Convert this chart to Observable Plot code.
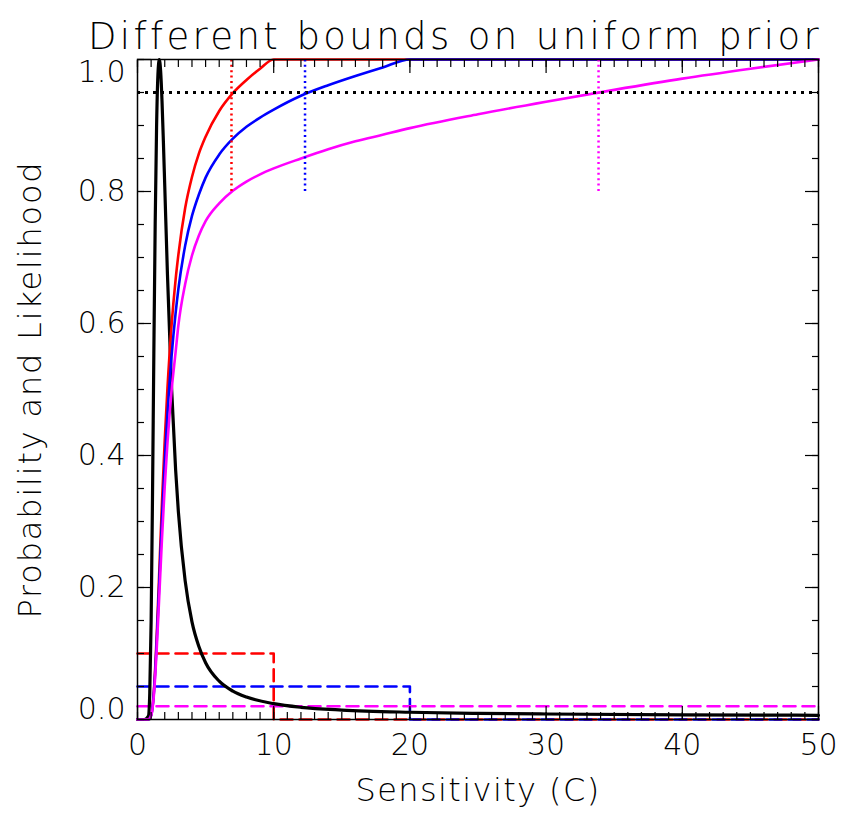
<!DOCTYPE html>
<html><head><meta charset="utf-8">
<script src="https://cdn.jsdelivr.net/npm/d3@7"></script>
<script src="https://cdn.jsdelivr.net/npm/@observablehq/plot@0.6"></script>
<style>
body{margin:0;background:#fff;}
#chart svg, #chart svg text{font-family:"DejaVu Sans",sans-serif;font-weight:200;}
</style></head><body><div id="chart"></div>
<script>
// Sensitivity grid for the posterior CDFs
const sens = [0, 0.8, 1.0, 1.2, 1.4, 1.6, 1.8, 2.0, 2.2, 2.5, 2.8, 3.0, 3.5, 4, 4.5, 5, 6, 7, 8, 9, 10, 12, 14, 16, 18, 20, 25, 30, 35, 40, 45, 50];
// Posterior CDFs for uniform priors on [0,10], [0,20], [0,50]
const cdf10 = [0, 0.0003, 0.0065, 0.043, 0.122, 0.225, 0.33, 0.423, 0.502, 0.597, 0.667, 0.704, 0.775, 0.822, 0.857, 0.883, 0.922, 0.949, 0.969, 0.986, 1, 1, 1, 1, 1, 1, 1, 1, 1, 1, 1, 1];
const cdf20 = [0, 0.0002, 0.006, 0.040, 0.113, 0.208, 0.304, 0.390, 0.463, 0.550, 0.616, 0.652, 0.718, 0.763, 0.795, 0.821, 0.856, 0.880, 0.898, 0.912, 0.924, 0.945, 0.961, 0.975, 0.988, 1, 1, 1, 1, 1, 1, 1];
const cdf50 = [0, 0.0002, 0.0055, 0.036, 0.102, 0.188, 0.275, 0.353, 0.419, 0.498, 0.557, 0.597, 0.660, 0.703, 0.733, 0.755, 0.782, 0.801, 0.815, 0.826, 0.835, 0.850, 0.864, 0.876, 0.886, 0.896, 0.917, 0.936, 0.954, 0.971, 0.986, 1.0];
// Likelihood (black)
const likeX = [0, 0.5, 0.8, 0.9, 1.0, 1.1, 1.2, 1.3, 1.4, 1.5, 1.6, 1.7, 1.8, 1.9, 2.0, 2.2, 2.5, 2.8, 3.0, 3.5, 4.0, 4.5, 5, 6, 7, 8, 10, 12, 15, 20, 25, 30, 40, 50];
const likeY = [0, 0, 0.005, 0.04, 0.148, 0.335, 0.555, 0.754, 0.897, 0.977, 1.0, 0.982, 0.937, 0.876, 0.809, 0.674, 0.503, 0.378, 0.315, 0.210, 0.148, 0.111, 0.086, 0.058, 0.043, 0.034, 0.024, 0.0185, 0.0143, 0.011, 0.0093, 0.0083, 0.0071, 0.0064];
// Uniform priors
const priorUpper = [10, 20, 50];
const priorDensity = [0.1, 0.05, 0.02];
// 95% bounds
const bound95 = [6.9, 12.3, 33.85];
const seriesColors = ["#ff0000", "#0000ff", "#ff00ff"];
const cdfs = [cdf10, cdf20, cdf50];
const xTicks = [0, 10, 20, 30, 40, 50];
const yTicksMid = [0.2, 0.4, 0.6, 0.8];
const xMinor = d3.range(0, 51, 1);
const yMinor = d3.range(0, 21).map(i => i * 0.05);
const yMajor = [0, 0.2, 0.4, 0.6, 0.8, 1.0];

const titleText = "Different bounds on uniform prior";
const xLabelText = "Sensitivity (C)";
const yLabelText = "Probability and Likelihood";

const xMax = 50;
const fmt = d3.format(".1f");
const FONT = '"DejaVu Sans", sans-serif';

const marks = [];
// priors (dashed)
priorUpper.forEach((u, i) => {
  const d = priorDensity[i];
  const pts = u < xMax ? [{x: 0, y: d}, {x: u, y: d}, {x: u, y: 0}, {x: xMax, y: 0}] : [{x: 0, y: d}, {x: u, y: d}];
  marks.push(Plot.line(pts, {x: "x", y: "y", stroke: seriesColors[i], strokeWidth: 2.6, strokeDasharray: "12,7"}));
});
// likelihood
marks.push(Plot.line(likeX.map((x, i) => ({x, y: likeY[i]})), {x: "x", y: "y", stroke: "black", strokeWidth: 3.2, curve: "monotone-x"}));
// CDFs
cdfs.forEach((c, i) => {
  marks.push(Plot.line(sens.map((x, j) => ({x, y: c[j]})), {x: "x", y: "y", stroke: seriesColors[i], strokeWidth: 2.6, curve: "monotone-x"}));
});
// 95% line
marks.push(Plot.ruleY([0.95], {stroke: "black", strokeWidth: 3, strokeDasharray: "3,5"}));
bound95.forEach((b, i) => {
  marks.push(Plot.ruleX([b], {y1: 0.8, y2: 1.0, stroke: seriesColors[i], strokeWidth: 2.5, strokeDasharray: "2,3.4"}));
});

const none = () => "";
const tickStyle = {label: null, stroke: "black", strokeWidth: 1.2};
const labelStyle = {fontSize: 30, fill: "black", fontWeight: 200, ...tickStyle};
marks.push(
  Plot.frame({stroke: "black", strokeWidth: 1.5}),
  // minor ticks
  Plot.axisX(xMinor, {anchor: "bottom", tickSize: -7, tickFormat: none, ...tickStyle}),
  Plot.axisX(xMinor, {anchor: "top", tickSize: -7, tickFormat: none, ...tickStyle}),
  Plot.axisY(yMinor, {anchor: "left", tickSize: -7, tickFormat: none, ...tickStyle}),
  Plot.axisY(yMinor, {anchor: "right", tickSize: -7, tickFormat: none, ...tickStyle}),
  // major ticks
  Plot.axisX(xTicks, {anchor: "top", tickSize: -13, tickFormat: none, ...tickStyle}),
  Plot.axisY(yMajor, {anchor: "right", tickSize: -14, tickFormat: none, ...tickStyle}),
  Plot.axisY(yMajor, {anchor: "left", tickSize: -14, tickFormat: none, ...tickStyle}),
  Plot.axisX(xTicks, {anchor: "bottom", tickSize: -13, tickPadding: 27, tickFormat: d => String(d), ...labelStyle}),
  // y labels
  Plot.axisY(yTicksMid, {anchor: "left", tickSize: 0, tickPadding: 12, tickFormat: fmt, ...labelStyle}),
  Plot.axisY([1.0], {anchor: "left", tickSize: 0, tickPadding: 12, dy: 13, tickFormat: fmt, ...labelStyle}),
  Plot.axisY([0.0], {anchor: "left", tickSize: 0, tickPadding: 12, dy: -10, tickFormat: fmt, ...labelStyle}),
  // titles
  Plot.text([titleText], {frameAnchor: "top", textAnchor: "middle", dx: -23, dy: -37, fontSize: 37, fontWeight: 200, fill: "black"}),
  Plot.text([xLabelText], {frameAnchor: "bottom", textAnchor: "middle", dy: 81, fontSize: 32, fontWeight: 200, fill: "black"}),
  Plot.text([yLabelText], {frameAnchor: "left", textAnchor: "middle", dx: -107, rotate: -90, fontSize: 32, fontWeight: 200, fill: "black"})
);

const plot = Plot.plot({
  width: 843,
  height: 827,
  marginLeft: 137,
  marginRight: 25,
  marginTop: 59,
  marginBottom: 108,
  x: {domain: [0, 50]},
  y: {domain: [0, 1]},
  style: {fontFamily: FONT, fontSize: "30px", fontWeight: 200, color: "black", background: "white", overflow: "visible"},
  marks
});
// letter spacing for the titles (reference font is widely spaced)
const spacing = {[titleText]: "3.4px", [xLabelText]: "1.4px", [yLabelText]: "1.8px"};
d3.select(plot).selectAll("text").each(function() {
  const t = this.textContent;
  if (spacing[t]) this.style.letterSpacing = spacing[t];
});
document.getElementById("chart").appendChild(plot);
</script>
</body></html>
